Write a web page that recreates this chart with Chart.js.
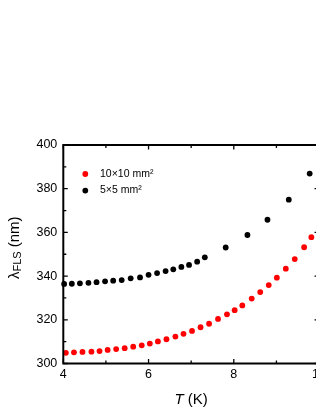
<!DOCTYPE html>
<html>
<head>
<meta charset="utf-8">
<script src="https://cdn.jsdelivr.net/npm/chart.js@4"></script>
<style>
  html, body { margin: 0; padding: 0; overflow: hidden; background: #fff; }
</style>
</head>
<body>
<canvas id="fls" width="330" height="409"></canvas>
<script>
// temperature (K) and FLS wavelength (nm)
var tempRed = [4.06, 4.25, 4.45, 4.66, 4.85, 5.04, 5.24, 5.44, 5.64, 5.84,
  6.03, 6.22, 6.42, 6.63, 6.82, 7.02, 7.22, 7.42, 7.63, 7.84,
  8.02, 8.20, 8.42, 8.62, 8.82, 9.01, 9.22, 9.43, 9.65, 9.82];
var lambdaRed = [304.9, 305.1, 305.3, 305.4, 305.7, 306.2, 306.6, 307.0, 307.7, 308.3,
  309.1, 310.1, 311.1, 312.3, 313.6, 314.9, 316.6, 318.2, 320.4, 322.5,
  324.4, 326.6, 329.7, 332.7, 335.9, 339.3, 343.4, 347.8, 353.2, 357.8];

var tempBlack = [4.02, 4.20, 4.39, 4.59, 4.78, 4.98, 5.17, 5.37, 5.58, 5.80,
  6.00, 6.20, 6.40, 6.58, 6.77, 6.95, 7.14, 7.32, 7.81, 8.32, 8.79, 9.29, 9.78];
var lambdaBlack = [336.4, 336.5, 336.7, 336.9, 337.2, 337.6, 337.9, 338.2, 339.0, 339.4,
  340.6, 341.4, 342.3, 343.1, 344.2, 345.1, 346.6, 348.6, 353.1, 358.8, 365.8, 375.0, 386.9];

var seriesLabels = ['10\u00d710 mm\u00b2', '5\u00d75 mm\u00b2'];
var xTicks = [4, 6, 8, 10];
var yTicks = [300, 320, 340, 360, 380, 400];

var FONT = '"Liberation Sans", Arial, sans-serif';

function toPoints(xs, ys) {
  return xs.map(function (t, i) { return { x: t, y: ys[i] }; });
}

// box round the plot with inward ticks, legend inside, axis titles
var framePlugin = {
  id: 'frame',
  afterDraw: function (chart) {
    var ctx = chart.ctx, a = chart.chartArea;
    var xs = chart.scales.x, ys = chart.scales.y;
    ctx.save();
    ctx.strokeStyle = '#000';
    ctx.lineWidth = 2;
    ctx.strokeRect(a.left, a.top, a.right - a.left, a.bottom - a.top);

    ctx.lineWidth = 1.3;
    ctx.beginPath();
    for (var v = xs.min; v <= xs.max; v += 1) {
      var px = xs.getPixelForValue(v);
      var len = v % 2 === 0 ? 4.5 : 3;
      ctx.moveTo(px, a.bottom); ctx.lineTo(px, a.bottom - len);
      ctx.moveTo(px, a.top); ctx.lineTo(px, a.top + len);
    }
    for (var w = ys.min; w <= ys.max; w += 10) {
      var py = ys.getPixelForValue(w);
      var l2 = w % 20 === 0 ? 4.5 : 3;
      ctx.moveTo(a.left, py); ctx.lineTo(a.left + l2, py);
      ctx.moveTo(a.right, py); ctx.lineTo(a.right - l2, py);
    }
    ctx.stroke();

    // legend in the upper left corner
    ctx.font = '10.5px ' + FONT;
    ctx.textBaseline = 'middle';
    ctx.textAlign = 'left';
    chart.data.datasets.forEach(function (ds, i) {
      var cy = 174 + i * 16.6;
      ctx.fillStyle = ds.backgroundColor;
      ctx.beginPath();
      ctx.arc(85.3, cy, 2.9, 0, Math.PI * 2);
      ctx.fill();
      ctx.fillStyle = '#000';
      ctx.fillText(ds.label, 100, cy);
    });

    // x title: italic T
    ctx.textBaseline = 'alphabetic';
    var cx = (a.left + a.right) / 2;
    ctx.font = 'italic 15px ' + FONT;
    var tW = ctx.measureText('T').width;
    ctx.font = '15px ' + FONT;
    var kW = ctx.measureText(' (K)').width;
    var x0 = cx - (tW + kW) / 2;
    ctx.font = 'italic 15px ' + FONT;
    ctx.fillText('T', x0, 404);
    ctx.font = '15px ' + FONT;
    ctx.fillText(' (K)', x0 + tW, 404);

    // y title: lambda with subscript FLS
    ctx.translate(18.7, (a.top + a.bottom) / 2 - 6.5);
    ctx.rotate(-Math.PI / 2);
    ctx.font = '15px ' + FONT;
    var lw = ctx.measureText('\u03bb').width;
    var nw = ctx.measureText(' (nm)').width;
    ctx.font = '11px ' + FONT;
    var sw = ctx.measureText('FLS').width;
    var s0 = -(lw + sw + nw) / 2;
    ctx.font = '15px ' + FONT;
    ctx.fillText('\u03bb', s0, 0);
    ctx.font = '11px ' + FONT;
    ctx.fillText('FLS', s0 + lw, 2);
    ctx.font = '15px ' + FONT;
    ctx.fillText(' (nm)', s0 + lw + sw, 0);
    ctx.restore();
  }
};

var ctx = document.getElementById('fls').getContext('2d');
var flsChart = new Chart(ctx, {
  type: 'scatter',
  data: {
    datasets: [{
      label: seriesLabels[0],
      data: toPoints(tempRed, lambdaRed),
      backgroundColor: '#ff0000',
      borderColor: '#ff0000',
      pointRadius: 2.9,
      borderWidth: 0,
      clip: false
    }, {
      label: seriesLabels[1],
      data: toPoints(tempBlack, lambdaBlack),
      backgroundColor: '#000000',
      borderColor: '#000000',
      pointRadius: 2.9,
      borderWidth: 0,
      clip: false
    }]
  },
  options: {
    responsive: false,
    devicePixelRatio: 1,
    animation: false,
    layout: { padding: { top: 145, right: 10.3, bottom: 0, left: 0 } },
    scales: {
      x: {
        type: 'linear',
        min: 4, max: 10,
        afterBuildTicks: function (s) { s.ticks = xTicks.map(function (v) { return { value: v }; }); },
        afterFit: function (s) { s.height = 45.5; },
        grid: { display: false, drawTicks: false },
        border: { display: false },
        ticks: { color: '#000', padding: 4, maxRotation: 0, font: { family: FONT, size: 12.5 } }
      },
      y: {
        min: 300, max: 400,
        afterBuildTicks: function (s) { s.ticks = yTicks.map(function (v) { return { value: v }; }); },
        afterFit: function (s) { s.width = 63.3; },
        grid: { display: false, drawTicks: false },
        border: { display: false },
        ticks: { color: '#000', padding: 6, font: { family: FONT, size: 12.5 } }
      }
    },
    plugins: {
      legend: { display: false },
      tooltip: { enabled: false }
    }
  },
  plugins: [framePlugin]
});
</script>
</body>
</html>
